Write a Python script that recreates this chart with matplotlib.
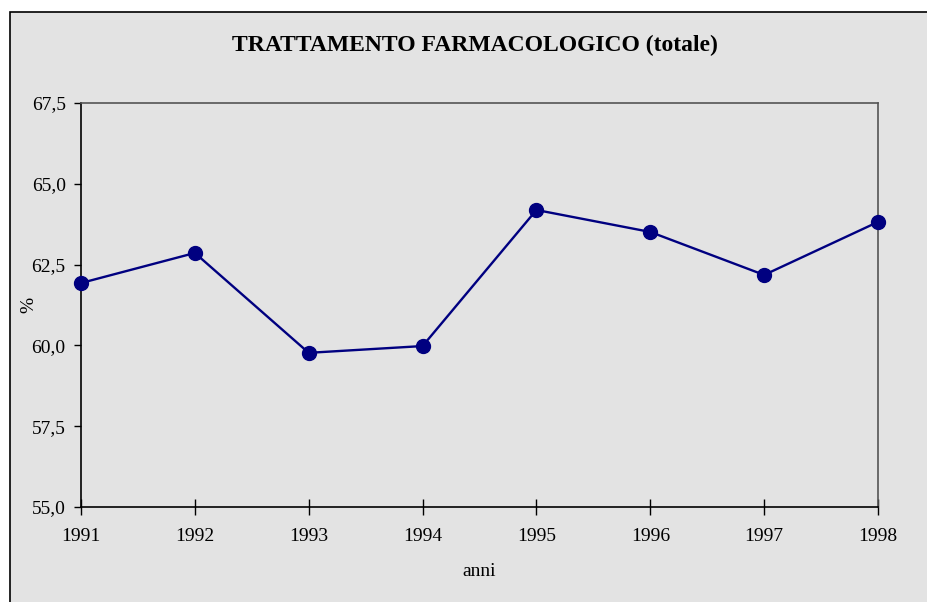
import matplotlib
matplotlib.use("Agg")
import matplotlib.pyplot as plt
from matplotlib.patches import Rectangle
from matplotlib.ticker import FuncFormatter

anni = [1991, 1992, 1993, 1994, 1995, 1996, 1997, 1998]
valori = [61.93, 62.86, 59.77, 59.98, 64.19, 63.51, 62.18, 63.82]
yticks = [55.0, 57.5, 60.0, 62.5, 65.0, 67.5]

plt.rcParams['font.family'] = ['Liberation Serif', 'DejaVu Serif']

bg = '#e3e3e3'
fig = plt.figure(figsize=(9.28, 6.02), dpi=100)
fig.patch.set_facecolor('white')

# cornice esterna del grafico
fig.patches.append(Rectangle((10 / 928, -0.01), 1.0, (602 - 12) / 602 + 0.01,
                             transform=fig.transFigure, facecolor=bg,
                             edgecolor='black', linewidth=1.2, zorder=-1))

ax = fig.add_axes([81 / 928, 95 / 602, 797 / 928, 404 / 602])
ax.set_facecolor(bg)

ax.plot(anni, valori, color='#000080', linewidth=1.7, marker='o',
        markersize=10, clip_on=False, zorder=3)

ax.set_xlim(1991, 1998)
ax.set_ylim(55, 67.5)
ax.set_xticks(anni)
ax.set_yticks(yticks)
ax.yaxis.set_major_formatter(FuncFormatter(lambda v, p: f'{v:.1f}'.replace('.', ',')))

for s in ['top', 'right']:
    ax.spines[s].set_color('#555555')
    ax.spines[s].set_linewidth(1.2)
for s in ['left', 'bottom']:
    ax.spines[s].set_color('black')
    ax.spines[s].set_linewidth(1.2)

ax.tick_params(axis='x', direction='inout', length=12, width=1, labelsize=14, pad=9)
ax.tick_params(axis='y', direction='out', length=5, width=1, labelsize=14, pad=6)

ax.set_xlabel('anni', fontsize=14)
ax.set_ylabel('%', fontsize=14)
ax.xaxis.set_label_coords(0.5, -0.138)
ax.yaxis.set_label_coords(-0.055, 0.5)

fig.text(475 / 928, 1 - 45 / 602, 'TRATTAMENTO FARMACOLOGICO (totale)',
         ha='center', va='center', fontsize=17, fontweight='bold')

fig.savefig('out.png', dpi=100, facecolor=fig.get_facecolor())
